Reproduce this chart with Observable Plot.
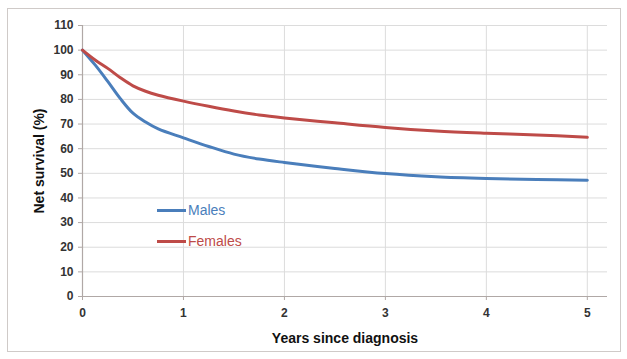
<!DOCTYPE html>
<html>
<head>
<meta charset="utf-8">
<script src="https://cdn.jsdelivr.net/npm/d3@7"></script>
<script src="https://cdn.jsdelivr.net/npm/@observablehq/plot@0.6"></script>
<style>
  html, body { margin: 0; padding: 0; background: #fff; }
  #wrap { position: relative; width: 627px; height: 359px; overflow: hidden; }
  #frame { position: absolute; left: 7px; top: 8px; width: 614px; height: 344px; border: 1.5px solid #cfcac8; box-sizing: border-box; }
  #chart { position: absolute; left: 0; top: 0; }
  #legend { position: absolute; left: 157px; top: 200px; font-family: "Liberation Sans", Arial, sans-serif; font-size: 14px; }
  .item { display: flex; align-items: center; height: 20px; margin-bottom: 11px; }
  .swatch { width: 29px; height: 3px; margin-right: 2px; }
</style>
</head>
<body>
<div id="wrap">
  <div id="frame"></div>
  <div id="chart"></div>
  <div id="legend"></div>
</div>
<script>
const years = [0, 0.125, 0.25, 0.375, 0.5, 0.625, 0.75, 1, 1.25, 1.5, 1.75, 2, 2.5, 3, 3.5, 4, 4.5, 5];
const males = [100, 94, 87.3, 80.3, 74.4, 70.8, 68, 64.4, 60.9, 57.8, 55.8, 54.4, 52, 49.9, 48.6, 47.9, 47.5, 47.2];
const females = [100, 96, 92.6, 88.8, 85.5, 83.3, 81.7, 79.3, 77.2, 75.3, 73.7, 72.5, 70.5, 68.6, 67.2, 66.3, 65.6, 64.6];
const seriesNames = ["Males", "Females"];
const seriesColors = ["#4a7ebb", "#be4b48"];
const xTicks = [0, 1, 2, 3, 4, 5];
const yTicks = [0, 10, 20, 30, 40, 50, 60, 70, 80, 90, 100, 110];

const rows = [];
years.forEach((t, i) => {
  rows.push({year: t, value: males[i], series: seriesNames[0]});
  rows.push({year: t, value: females[i], series: seriesNames[1]});
});

const font = "'Liberation Sans', Arial, sans-serif";
const plot = Plot.plot({
  width: 627,
  height: 359,
  marginLeft: 82,
  marginRight: 20,
  marginTop: 25,
  marginBottom: 63,
  style: {fontFamily: font, background: "transparent", overflow: "visible"},
  x: {domain: [0, 5.2]},
  y: {domain: [0, 110]},
  color: {domain: seriesNames, range: seriesColors},
  marks: [
    Plot.gridX(xTicks, {stroke: "#dcdcdc", strokeOpacity: 1, strokeWidth: 1}),
    Plot.gridY(yTicks, {stroke: "#dcdcdc", strokeOpacity: 1, strokeWidth: 1}),
    Plot.ruleY([0], {stroke: "#b0a8a6", strokeWidth: 1.2}),
    Plot.ruleX([0], {stroke: "#b0a8a6", strokeWidth: 1.2}),
    Plot.axisY({
      ticks: yTicks, tickSize: 4, tickPadding: 5, stroke: "#b0a8a6", tickFormat: "d",
      fontSize: 12, fontWeight: "bold", fill: "#333",
      label: "Net survival (%)", labelAnchor: "center", labelArrow: "none", labelOffset: 48
    }),
    Plot.axisX({
      ticks: xTicks, tickSize: 4, tickPadding: 8, stroke: "#b0a8a6", tickFormat: "d",
      fontSize: 12, fontWeight: "bold", fill: "#333",
      label: "Years since diagnosis", labelAnchor: "center", labelArrow: "none", labelOffset: 46
    }),
    Plot.line(rows, {x: "year", y: "value", z: "series", stroke: "series", strokeWidth: 3, curve: "catmull-rom"})
  ]
});
plot.querySelectorAll("g[aria-label='y-axis label'] text, g[aria-label='x-axis label'] text").forEach(t => {
  t.setAttribute("font-weight", "bold");
  t.setAttribute("font-size", "14");
  t.setAttribute("fill", "#111");
});
document.getElementById("chart").appendChild(plot);

const legend = document.getElementById("legend");
seriesNames.forEach((name, i) => {
  const item = document.createElement("div");
  item.className = "item";
  const sw = document.createElement("div");
  sw.className = "swatch";
  sw.style.background = seriesColors[i];
  const lab = document.createElement("span");
  lab.textContent = name;
  lab.style.color = seriesColors[i];
  item.appendChild(sw);
  item.appendChild(lab);
  legend.appendChild(item);
});
</script>
</body>
</html>
